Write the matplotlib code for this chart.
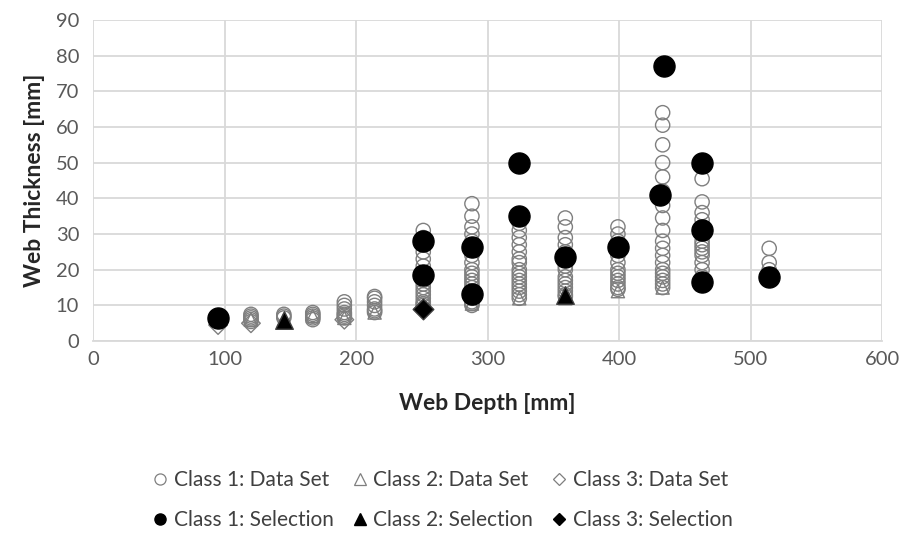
import numpy as np
import matplotlib.pyplot as plt
from matplotlib.lines import Line2D

plt.rcParams['font.family'] = ['Lato', 'DejaVu Sans']

# class 1 data set: web depth columns and the thicknesses found at each depth
c1_depth = [120, 145, 167, 191, 214, 251, 288, 324, 359, 399, 433, 463, 514]
c1_thick = [
    [5.5, 6, 6.5, 7, 7.5],
    [6.5, 7, 7.5],
    [6, 6.5, 7, 7.5, 8],
    [6.5, 7, 7.5, 8, 9, 10, 11],
    [8, 8.5, 9, 10, 11, 12, 12.5],
    [10, 10.5, 11, 12, 13, 14, 15, 16, 17, 19, 21, 23, 25, 27, 29, 31],
    [10, 10.5, 11, 12, 13, 14, 15, 16, 17, 18, 19, 20, 22, 24, 26, 28, 30, 32, 35, 38.5],
    [12, 13, 14, 15, 16, 17, 18, 19, 20, 22, 23, 25, 27, 29, 31, 33],
    [12.5, 13, 14, 15, 16, 17, 18, 20, 21, 23, 25, 27, 29, 32, 34.5],
    [14.5, 15, 16, 17, 18, 19, 20, 22, 24, 26, 28, 30, 32],
    [15, 16, 17, 18, 19, 20, 22, 24, 26, 28, 31, 34.5, 38, 42, 46, 50, 55, 60.5, 64],
    [16, 18, 20, 22, 24, 25, 26, 27, 28, 30, 32, 34, 36, 39, 45.5],
    [18, 20, 22, 26],
]
c2_depth = [120, 145, 167, 191, 214, 251, 288, 324, 359, 399, 433, 463]
c2_thick = [6, 6, 7, 6.5, 8, 10, 10.5, 12, 12, 14, 15, 16]
c3_depth = [95, 120, 191, 251]
c3_thick = [4.5, 5, 6, 9]

c1_sel_depth = [95, 251, 251, 288, 288, 324, 324, 359, 399, 431, 434, 463, 463, 463, 514]
c1_sel_thick = [6.5, 28, 18.5, 26.5, 13.3, 50, 35, 23.5, 26.5, 41, 77, 50, 31, 16.5, 18]
c2_sel_depth = [145, 359]
c2_sel_thick = [6, 13]
c3_sel_depth = [251]
c3_sel_thick = [9]

c1_x = np.repeat(c1_depth, [len(t) for t in c1_thick])
c1_y = np.concatenate(c1_thick)

grey = '#7f7f7f'
fig = plt.figure(figsize=(9.04, 5.38), dpi=100)
ax = fig.add_axes([0.103, 0.366, 0.873, 0.597])

ax.scatter(c1_x, c1_y, s=105, marker='o', facecolors='none', edgecolors=grey, linewidths=1, zorder=3)
ax.scatter(c2_depth, c2_thick, s=90, marker='^', facecolors='none', edgecolors=grey, linewidths=1, zorder=3)
ax.scatter(c3_depth, c3_thick, s=90, marker='D', facecolors='none', edgecolors=grey, linewidths=1, zorder=3)
ax.scatter(c1_sel_depth, c1_sel_thick, s=230, marker='o', color='black', zorder=4)
ax.scatter(c2_sel_depth, c2_sel_thick, s=160, marker='^', color='black', edgecolors='#404040', zorder=4)
ax.scatter(c3_sel_depth, c3_sel_thick, s=110, marker='D', color='black', edgecolors='#404040', zorder=4)

ax.set_xlim(0, 600)
ax.set_ylim(0, 90)
ax.set_xticks(range(0, 601, 100))
ax.set_yticks(range(0, 91, 10))
ax.grid(True, color='#d9d9d9', linewidth=1.3)
ax.set_axisbelow(True)
for s in ['top', 'right', 'left']:
    ax.spines[s].set_visible(False)
ax.spines['bottom'].set_color('#d9d9d9')
ax.spines['bottom'].set_linewidth(1.3)
ax.tick_params(length=0, labelsize=14.5, labelcolor='#595959')
ax.tick_params(axis='x', pad=7)
ax.tick_params(axis='y', pad=10)
ax.set_xlabel('Web Depth [mm]', fontsize=16.5, fontweight='bold', color='#262626', labelpad=18)
ax.set_ylabel('Web Thickness [mm]', fontsize=16.5, fontweight='bold', color='#262626', labelpad=8)

def h(m, filled, ms):
    if filled:
        return Line2D([], [], marker=m, ls='none', color='black', ms=ms)
    return Line2D([], [], marker=m, ls='none', mfc='none', mec=grey, ms=ms, mew=0.9)

handles = [h('o', False, 8), h('o', True, 8), h('^', False, 8), h('^', True, 8),
           h('D', False, 6), h('D', True, 6)]
labels = ['Class 1: Data Set', 'Class 1: Selection', 'Class 2: Data Set',
          'Class 2: Selection', 'Class 3: Data Set', 'Class 3: Selection']
fig.legend(handles, labels, loc='center', bbox_to_anchor=(0.49, 0.07), ncol=3,
           frameon=False, fontsize=15, labelcolor='#404040', handlelength=0.7,
           handletextpad=0.3, columnspacing=0.9, labelspacing=0.95)

fig.savefig('out.png', dpi=100)
